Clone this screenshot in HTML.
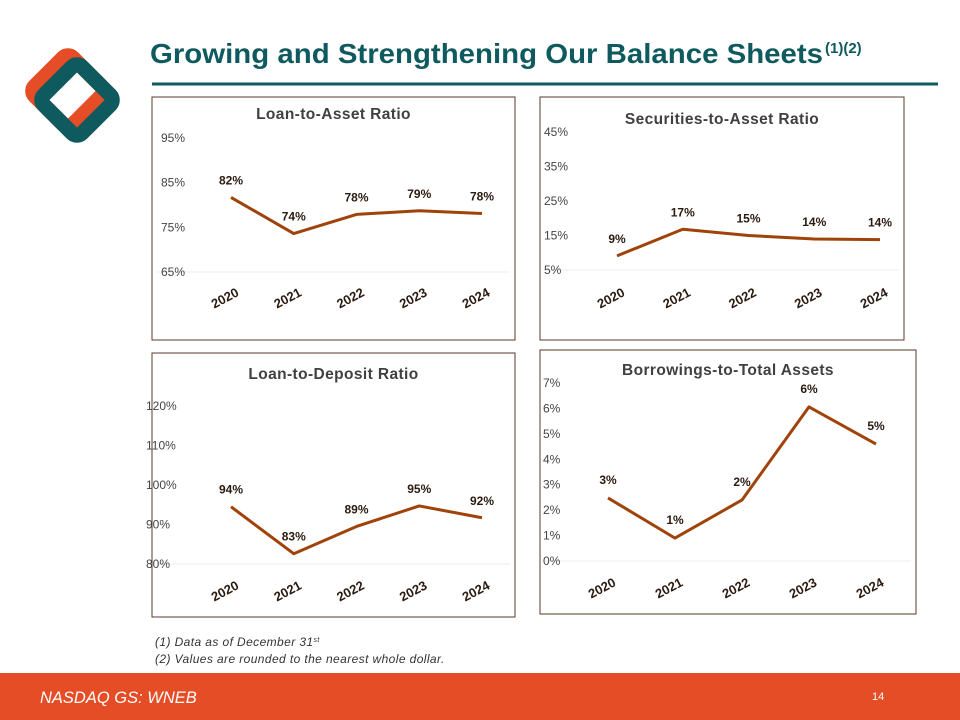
<!DOCTYPE html>
<html><head><meta charset="utf-8">
<style>
body{margin:0;width:960px;height:720px;overflow:hidden;background:#fff;font-family:"Liberation Sans",sans-serif;position:relative}
.abs{position:absolute}
svg text{font-family:"Liberation Sans",sans-serif}
</style></head><body>
<svg class="abs" style="left:0;top:0" width="960" height="720">
  <g>
    <rect x="41" y="64" width="54" height="54" rx="7" transform="rotate(45 68 91)" fill="none" stroke="#e44d26" stroke-width="15"/>
    <rect x="50" y="73" width="54" height="54" rx="7" transform="rotate(45 77 100)" fill="none" stroke="#0f5a5e" stroke-width="15"/>
  </g>
  <text x="150" y="63" font-size="28" font-weight="bold" fill="#0f5a5e" textLength="673" lengthAdjust="spacingAndGlyphs">Growing and Strengthening Our Balance Sheets</text>
  <text x="825" y="53" font-size="15" font-weight="bold" fill="#0f5a5e">(1)(2)</text>
  <line x1="152" y1="84" x2="938" y2="84" stroke="#0f5a5e" stroke-width="3"/>
  <g id="charts"></g>
  <text x="155" y="646" font-size="12" font-style="italic" fill="#333" letter-spacing="0.4">(1)   Data as of December 31<tspan font-size="7" dy="-4">st</tspan></text>
  <text x="155" y="663" font-size="12" font-style="italic" fill="#333" letter-spacing="0.4">(2)   Values are rounded to the nearest whole dollar.</text>
  <rect x="0" y="673" width="960" height="47" fill="#e44d26"/>
  <text x="40" y="703" font-size="16.5" font-style="italic" fill="#fff">NASDAQ GS: WNEB</text>
  <text x="872" y="700" font-size="11" fill="#fff">14</text>
</svg>
<script>
const years=["2020","2021","2022","2023","2024"];
const loanAssetVals=[81.7,73.6,77.9,78.7,78.1];
const loanAssetLabels=["82%","74%","78%","79%","78%"];
const loanAssetTicks=[65,75,85,95];
const secAssetVals=[9.1,16.8,15.0,14.0,13.8];
const secAssetLabels=["9%","17%","15%","14%","14%"];
const secAssetTicks=[5,15,25,35,45];
const loanDepVals=[94.5,82.6,89.5,94.7,91.7];
const loanDepLabels=["94%","83%","89%","95%","92%"];
const loanDepTicks=[80,90,100,110,120];
const borrowVals=[2.48,0.9,2.4,6.06,4.6];
const borrowLabels=["3%","1%","2%","6%","5%"];
const borrowTicks=[0,1,2,3,4,5,6,7];

const NS="http://www.w3.org/2000/svg";
const root=document.getElementById('charts');
function mk(tag,attrs,parent){const e=document.createElementNS(NS,tag);for(const k in attrs)e.setAttribute(k,attrs[k]);(parent||root).appendChild(e);return e;}

function chart(cfg){
  const g=mk('g',{});
  
  
  const box=mk('rect',{x:cfg.bx,y:cfg.by,width:cfg.bw,height:cfg.bh,fill:'none',stroke:'#5a3a28','stroke-width':1},g);
  
  
  const t=mk('text',{x:cfg.bx+cfg.bw/2,y:cfg.ty,'text-anchor':'middle','font-size':15.5,'font-weight':'bold',fill:'#404040','letter-spacing':0.4},g);
  t.textContent=cfg.title;
  
  
  const tmin=cfg.ticks[0],tmax=cfg.ticks[cfg.ticks.length-1];
  const Y=v=>cfg.y0-(v-tmin)/(tmax-tmin)*(cfg.y0-cfg.y1);
  const X=i=>cfg.x0+i*(cfg.x1-cfg.x0)/(years.length-1);
  const gl=mk('line',{x1:cfg.bx+5,x2:cfg.bx+cfg.bw-5,y1:Y(tmin),y2:Y(tmin),stroke:'#f0ece8','stroke-width':1},g);
  
  
  cfg.ticks.forEach(v=>{
    const tt=mk('text',{x:cfg.tx,y:Y(v)+4,'font-size':12,fill:'#444'},g);
    tt.textContent=v+'%';
    
    
  });
  const pts=cfg.vals.map((v,i)=>X(i)+','+Y(v)).join(' ');
  const pl=mk('polyline',{points:pts,fill:'none',stroke:'#a0430a','stroke-width':3,'stroke-linejoin':'round'},g);
  
  
  cfg.vals.forEach((v,i)=>{
    const l=mk('text',{x:X(i),y:Y(v)-cfg.lo,'text-anchor':'middle','font-size':12,'font-weight':'bold',fill:'#2a1a10'},g);
    l.textContent=cfg.labels[i];
    
    
    const xl=mk('text',{x:X(i)-4,y:cfg.xly,'text-anchor':'middle','font-size':13,'font-weight':'bold',fill:'#2a1a10',transform:`rotate(-28 ${X(i)-4} ${cfg.xly})`},g);
    xl.textContent=years[i];
    
    
  });
}
chart({name:'loan-to-asset-chart',title:'Loan-to-Asset Ratio',bx:152,by:97,bw:363,bh:243,ty:119,tx:161,ticks:loanAssetTicks,y0:272,y1:138,x0:231,x1:482,vals:loanAssetVals,labels:loanAssetLabels,lo:13,xly:302});
chart({name:'securities-to-asset-chart',title:'Securities-to-Asset Ratio',bx:540,by:97,bw:364,bh:243,ty:124,tx:544,ticks:secAssetTicks,y0:270,y1:132,x0:617,x1:880,vals:secAssetVals,labels:secAssetLabels,lo:13,xly:302});
chart({name:'loan-to-deposit-chart',title:'Loan-to-Deposit Ratio',bx:152,by:353,bw:363,bh:264,ty:379,tx:146,ticks:loanDepTicks,y0:564,y1:406,x0:231,x1:482,vals:loanDepVals,labels:loanDepLabels,lo:13,xly:595});
chart({name:'borrowings-to-assets-chart',title:'Borrowings-to-Total Assets',bx:540,by:350,bw:376,bh:264,ty:375,tx:543,ticks:borrowTicks,y0:561,y1:383,x0:608,x1:876,vals:borrowVals,labels:borrowLabels,lo:14,xly:592});
</script>
</body></html>
